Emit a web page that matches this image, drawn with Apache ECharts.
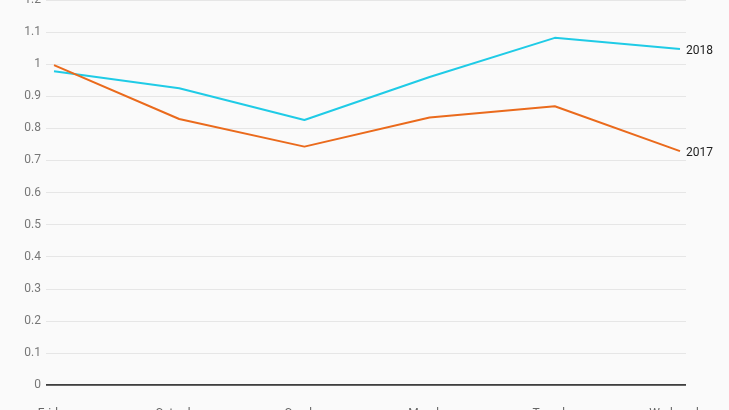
<!DOCTYPE html>
<html>
<head>
<meta charset="utf-8">
<style>html,body{margin:0;padding:0;background:#fafafa;}#c{width:729px;height:410px;}</style>
<script src="https://cdn.jsdelivr.net/npm/echarts@6/dist/echarts.min.js"></script>
</head>
<body>
<div id="c"></div>
<script>
const categories = ['Friday', 'Saturday', 'Sunday', 'Monday', 'Tuesday', 'Wednesday'];
const values2018 = [0.978, 0.925, 0.826, 0.960, 1.082, 1.047];
const values2017 = [0.997, 0.829, 0.743, 0.834, 0.869, 0.729];
const yTicks = [0, 0.1, 0.2, 0.3, 0.4, 0.5, 0.6, 0.7, 0.8, 0.9, 1, 1.1, 1.2];

const chart = echarts.init(document.getElementById('c'));
const font = 'Roboto, "Noto Sans", sans-serif';
chart.setOption({
  backgroundColor: '#fafafa',
  animation: false,
  grid: [
    { left: 46, right: 43, top: 0, bottom: 25, containLabel: false, outerBoundsMode: 'none' },
    { left: 54, right: 49, top: 0, bottom: 25, containLabel: false, outerBoundsMode: 'none' }
  ],
  xAxis: [
    { gridIndex: 0, type: 'value', min: 0, max: 1, show: false },
    { gridIndex: 1, type: 'category', data: categories, boundaryGap: false,
      axisLine: { show: false }, axisTick: { show: false },
      axisLabel: { margin: 23, color: '#666', fontSize: 12, fontFamily: font, interval: 0 } }
  ],
  yAxis: [
    { gridIndex: 0, type: 'value', min: 0, max: 1.2, interval: 0.1,
      axisLine: { show: false }, axisTick: { show: false },
      axisLabel: { color: '#777', fontSize: 12, fontFamily: font, margin: 5,
        formatter: v => { const t = yTicks.find(x => Math.abs(x - v) < 1e-6); return t === undefined ? '' : String(t); } },
      splitLine: { lineStyle: { color: '#e6e6e6', width: 1 } } },
    { gridIndex: 1, type: 'value', min: 0, max: 1.2, show: false, splitLine: { show: false } }
  ],
  series: [
    { type: 'line', xAxisIndex: 0, yAxisIndex: 0, data: [[0, 0], [1, 0]], symbol: 'none',
      lineStyle: { color: '#000', width: 1.5 }, silent: true, z: 3 },
    { name: '2018', type: 'line', xAxisIndex: 1, yAxisIndex: 1, data: values2018, symbol: 'none',
      lineStyle: { color: '#1fcbe6', width: 2 }, itemStyle: { color: '#1fcbe6' },
      endLabel: { show: true, formatter: '{a}', color: '#222', fontSize: 12, fontFamily: font, distance: 6, offset: [0, 2] } },
    { name: '2017', type: 'line', xAxisIndex: 1, yAxisIndex: 1, data: values2017, symbol: 'none',
      lineStyle: { color: '#ea6a1c', width: 2 }, itemStyle: { color: '#ea6a1c' },
      endLabel: { show: true, formatter: '{a}', color: '#222', fontSize: 12, fontFamily: font, distance: 6, offset: [0, 2] } }
  ]
});
</script>
</body>
</html>
